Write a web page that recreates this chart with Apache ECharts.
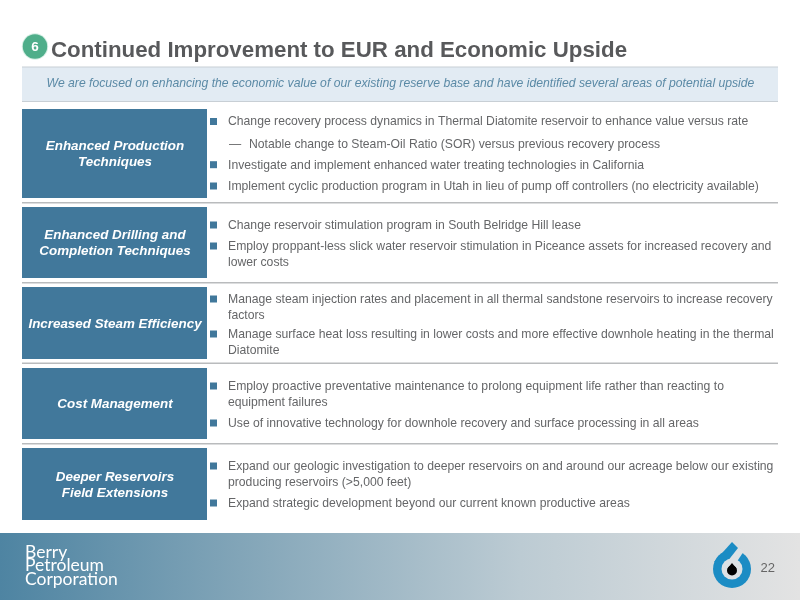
<!DOCTYPE html>
<html>
<head>
<meta charset="utf-8">
<title>Continued Improvement to EUR and Economic Upside</title>
<script src="https://cdn.jsdelivr.net/npm/echarts@6/dist/echarts.min.js"></script>
<style>
html,body{margin:0;padding:0;background:#fff;}
#main{width:800px;height:600px;}
</style>
</head>
<body>
<div id="main"></div>
<script>
var slideTitle = 'Continued Improvement to EUR and Economic Upside';
var slideNumber = '6';
var pageNumber = '22';
var bannerText = 'We are focused on enhancing the economic value of our existing reserve base and have identified several areas of potential upside';
var companyLines = ['Berry', 'Petroleum', 'Corporation'];

var sectionTitles = [
    ['Enhanced Production', 'Techniques'],
    ['Enhanced Drilling and', 'Completion Techniques'],
    ['Increased Steam Efficiency'],
    ['Cost Management'],
    ['Deeper Reservoirs', 'Field Extensions']
];
// first string of each item is the bullet line, the rest are wrapped lines
var productionBullets = [
    ['Change recovery process dynamics in Thermal Diatomite reservoir to enhance value versus rate'],
    ['Notable change to Steam-Oil Ratio (SOR) versus previous recovery process'],
    ['Investigate and implement enhanced water treating technologies in California'],
    ['Implement cyclic production program in Utah in lieu of pump off controllers (no electricity available)']
];
var drillingBullets = [
    ['Change reservoir stimulation program in South Belridge Hill lease'],
    ['Employ proppant-less slick water reservoir stimulation in Piceance assets for increased recovery and', 'lower costs']
];
var steamBullets = [
    ['Manage steam injection rates and placement in all thermal sandstone reservoirs to increase recovery', 'factors'],
    ['Manage surface heat loss resulting in lower costs and more effective downhole heating in the thermal', 'Diatomite']
];
var costBullets = [
    ['Employ proactive preventative maintenance to prolong equipment life rather than reacting to', 'equipment failures'],
    ['Use of innovative technology for downhole recovery and surface processing in all areas']
];
var deeperBullets = [
    ['Expand our geologic investigation to deeper reservoirs on and around our acreage below our existing', 'producing reservoirs (>5,000 feet)'],
    ['Expand strategic development beyond our current known productive areas']
];
var sectionBullets = [productionBullets, drillingBullets, steamBullets, costBullets, deeperBullets];

// layout of the slide, kept apart from the text
var boxTops = [109, 207, 287, 368, 448];
var boxBottoms = [198, 278, 359, 439, 520];
var ruleYs = [202, 282, 362.5, 443];
var bulletYs = [
    [121.5, 144, 164.7, 186],
    [225, 246],
    [299, 334],
    [386, 423],
    [466, 503]
];
var subBullet = {section: 0, item: 1};

var blue = '#41789b';
var grey = '#656668';
var bodyFont = '12.2px "Liberation Sans", Arial, sans-serif';
var els = [];

function addText(text, x, y, font, fill, align) {
    els.push({
        type: 'text',
        style: {text: text, x: x, y: y, font: font, fill: fill, align: align || 'left', verticalAlign: 'middle'}
    });
}
function addRect(x, y, w, h, fill) {
    els.push({type: 'rect', shape: {x: x, y: y, width: w, height: h}, style: {fill: fill}});
}

// header
els.push({type: 'circle', shape: {cx: 35, cy: 46.5, r: 13.2}, style: {fill: '#d5eee4'}});
els.push({type: 'circle', shape: {cx: 35, cy: 46.5, r: 12.2}, style: {fill: '#4fae8a'}});
addText(slideNumber, 35, 47, 'bold 13.5px "Liberation Sans", Arial, sans-serif', '#fff', 'center');
addText(slideTitle, 51, 51, 'bold 22.3px "Liberation Sans", Arial, sans-serif', '#58595b');

addRect(22, 67, 756, 34, '#e2ebf3');
addRect(22, 66.5, 756, 1, '#c8cfd5');
addRect(22, 101, 756, 1, '#c8cfd5');
addText(bannerText, 400.5, 83.5, 'italic 12.2px "Liberation Sans", Arial, sans-serif', '#5b8aa6', 'center');

// sections
sectionTitles.forEach(function (lines, s) {
    var top = boxTops[s], bottom = boxBottoms[s];
    var mid = (top + bottom) / 2;
    addRect(22, top, 185, bottom - top, blue);
    lines.forEach(function (line, l) {
        var y = mid + 1.2 + (l - (lines.length - 1) / 2) * 16;
        addText(line, 115, y, 'italic bold 13.4px "Liberation Sans", Arial, sans-serif', '#fff', 'center');
    });
    sectionBullets[s].forEach(function (item, b) {
        var y = bulletYs[s][b];
        var isSub = s === subBullet.section && b === subBullet.item;
        if (isSub) {
            addText('\u2014', 229, y + 0.6, bodyFont, grey);
        } else {
            addRect(210, y - 3.5, 7, 7, blue);
        }
        item.forEach(function (line, l) {
            addText(line, isSub ? 249 : 228, y + 0.6 + l * 15.7, bodyFont, grey);
        });
    });
});
ruleYs.forEach(function (y) {
    addRect(22, y, 756, 1.5, '#b9bbbd');
});

// footer band
els.push({
    type: 'rect',
    shape: {x: 0, y: 533, width: 800, height: 67},
    style: {
        fill: new echarts.graphic.LinearGradient(0, 0, 1, 0, [
            {offset: 0, color: '#4e84a2'},
            {offset: 0.3, color: '#82a5b8'},
            {offset: 0.65, color: '#bccbd3'},
            {offset: 1, color: '#e3e3e3'}
        ])
    }
});
companyLines.forEach(function (line, i) {
    addText(line, 25, 552 + i * 13.5, '400 17.5px Lato, "Open Sans", sans-serif', '#fff');
});

// drop logo
var logoBlue = '#1b8cc4';
var logoHole = '#dce1e4';
els.push({type: 'circle', shape: {cx: 732, cy: 569, r: 19}, style: {fill: logoBlue}});
els.push({type: 'polygon', shape: {points: [[727, 561], [737, 547], [744, 551], [736, 563]]}, style: {fill: logoHole}});
els.push({type: 'polygon', shape: {points: [[714, 562], [732, 542], [738, 548], [727, 562]]}, style: {fill: logoBlue}});
els.push({type: 'circle', shape: {cx: 732, cy: 569, r: 10.5}, style: {fill: logoHole}});
els.push({type: 'circle', shape: {cx: 732, cy: 570.5, r: 5}, style: {fill: '#000'}});
els.push({type: 'polygon', shape: {points: [[732, 563], [727.5, 568.5], [736.5, 568.5]]}, style: {fill: '#000'}});
addText(pageNumber, 775, 568, '13px "Liberation Sans", Arial, sans-serif', '#666', 'right');

var chart = echarts.init(document.getElementById('main'));
chart.setOption({
    animation: false,
    backgroundColor: '#fff',
    graphic: {elements: els}
});
</script>
</body>
</html>
